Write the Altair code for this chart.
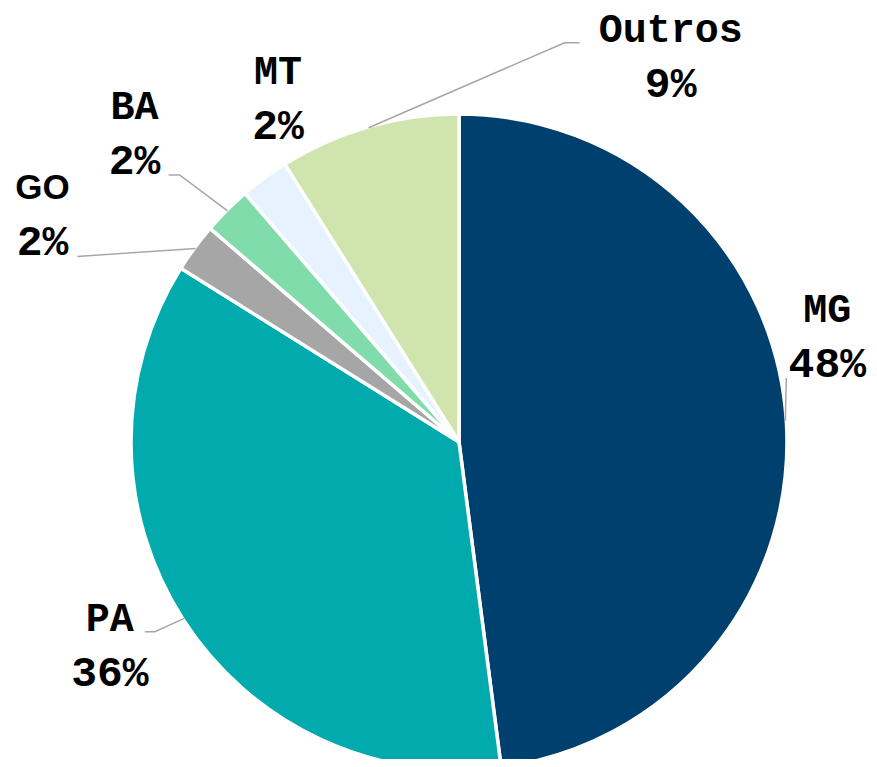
import altair as alt
import pandas as pd
import numpy as np

# ---- data ----
states = ["MG", "PA", "GO", "BA", "MT", "Outros"]
shares = [47.9, 35.9, 2.4, 2.4, 2.4, 8.9]
pct_labels = ["48%", "36%", "2%", "2%", "2%", "9%"]
colors = ["#00406E", "#00AAAD", "#A6A6A6", "#80DCAA", "#E6F2FE", "#D0E5AE"]

# ---- layout (label placement relative to each slice's rim anchor) ----
CX, CY, R = 451, 434, 327
label_dx = [42, -74, -153, -93, 13, 302]
label_dy = [-84, 27, -33, -77, -80, -71]
leader_pts = {
    "MG": [(0, 0), (1, -43)],
    "PA": [(0, 0), (-29, 13), (-39, 13)],
    "GO": [(0, 0), (-118, 8)],
    "BA": [(0, 0), (-48, -36), (-59, -36)],
    "Outros": [(0, 0), (196, -85), (211, -85)],
}

sh = np.array(shares, dtype=float)
mid = (np.cumsum(sh) - sh / 2) / sh.sum() * 2 * np.pi
ax = CX + R * np.sin(mid)
ay = CY - R * np.cos(mid)

slices = pd.DataFrame({"state": states, "share": shares, "order": range(len(states))})
labels = pd.DataFrame({
    "state": states,
    "pct": pct_labels,
    "lx": ax + np.array(label_dx),
    "ly": ay + np.array(label_dy),
})
rows = []
for i, s in enumerate(states):
    for j, (ox, oy) in enumerate(leader_pts.get(s, [])):
        rows.append({"state": s, "seq": j, "x": ax[i] + ox, "y": ay[i] + oy})
lines = pd.DataFrame(rows)

color_scale = alt.Scale(domain=states, range=colors)

arc = alt.Chart(slices).mark_arc(outerRadius=R + 1, stroke="white", strokeWidth=3.5).encode(
    theta=alt.Theta("share:Q", stack=True),
    color=alt.Color("state:N", scale=color_scale, legend=None),
    order=alt.Order("order:Q"),
    x=alt.value(CX),
    y=alt.value(CY),
)

leader = alt.Chart(lines).mark_line(color="#A6A6A6", strokeWidth=1.5).encode(
    x=alt.X("x:Q", scale=None, axis=None),
    y=alt.Y("y:Q", scale=None, axis=None),
    detail="state:N",
    order="seq:Q",
)

pos = dict(x=alt.X("lx:Q", scale=None, axis=None), y=alt.Y("ly:Q", scale=None, axis=None))

names = alt.Chart(labels).transform_filter(alt.datum.state != "GO").mark_text(
    font="Liberation Mono", fontWeight="bold", fontSize=40, dy=-27, color="black", baseline="middle"
).encode(text="state:N", **pos)

names_go = alt.Chart(labels).transform_filter(alt.datum.state == "GO").mark_text(
    font="Liberation Sans", fontWeight="bold", fontSize=35, dy=-27, color="black", baseline="middle"
).encode(text="state:N", **pos)

pcts = alt.Chart(labels).mark_text(
    font="Liberation Mono", fontWeight="bold", fontSize=43, dy=27, color="black", baseline="middle"
).encode(text="pct:N", **pos)

chart = alt.layer(arc, leader, names, names_go, pcts).properties(
    width=861, height=751, padding=0, autosize="none"
).configure_view(stroke=None)

chart.save("out.html", embed_options={"renderer": "svg", "actions": False})
